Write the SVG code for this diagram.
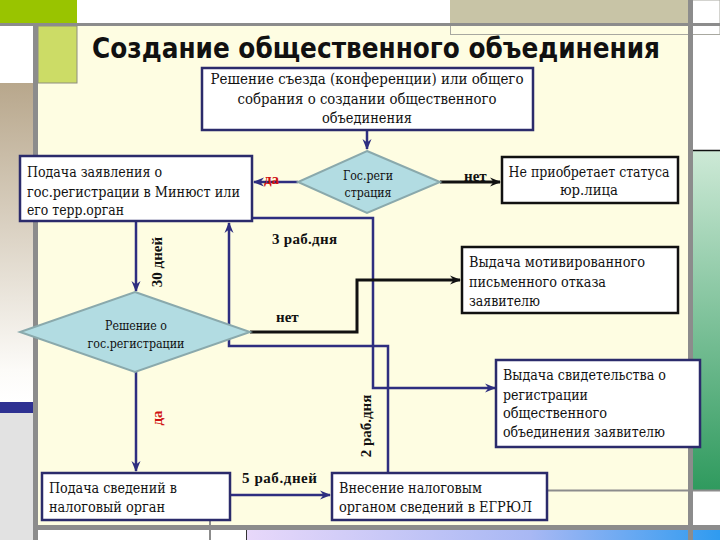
<svg xmlns="http://www.w3.org/2000/svg" width="720" height="540" viewBox="0 0 720 540">
<defs>
<linearGradient id="tan" x1="0" y1="0" x2="0" y2="1">
<stop offset="0" stop-color="#B8A78C"/><stop offset="0.9" stop-color="#FCFBF8"/><stop offset="1" stop-color="#FFFFFF"/>
</linearGradient>
<linearGradient id="grn" x1="0" y1="0" x2="0" y2="1">
<stop offset="0" stop-color="#CDE9D6"/><stop offset="1" stop-color="#2F9A5E"/>
</linearGradient>
<linearGradient id="blu" x1="0" y1="0" x2="1" y2="0">
<stop offset="0" stop-color="#E8D8FA"/><stop offset="0.6" stop-color="#A8B8F4"/><stop offset="1" stop-color="#2F9BF0"/>
</linearGradient>
<marker id="an" markerWidth="11" markerHeight="10" refX="10" refY="5" orient="auto" markerUnits="userSpaceOnUse">
<path d="M0,0.5 L11,5 L0,9.5 L3.5,5 Z" fill="#2E2E80"/>
</marker>
<marker id="ak" markerWidth="11" markerHeight="10" refX="10" refY="5" orient="auto" markerUnits="userSpaceOnUse">
<path d="M0,0.5 L11,5 L0,9.5 L3.5,5 Z" fill="#111"/>
</marker>
<style>
.box{fill:#fff;stroke:#2B2B6B;stroke-width:2.5}
.boxk{fill:#fff;stroke:#111;stroke-width:2.5}
.dia{fill:#B2DCE2;stroke:#8AA9AC;stroke-width:2}
.bt{font-family:'DejaVu Serif Condensed','DejaVu Serif',serif;font-stretch:condensed;font-size:14.5px;fill:#111}
.bts{font-family:'DejaVu Serif Condensed','DejaVu Serif',serif;font-stretch:condensed;font-size:13.5px;fill:#111;text-anchor:middle}
.mid{text-anchor:middle}
.lab{font-family:'Liberation Serif','DejaVu Serif',serif;font-size:15px;font-weight:bold;fill:#111}
.red{font-family:'Liberation Serif','DejaVu Serif',serif;font-size:15px;font-weight:bold;fill:#D01010}
.cn{fill:none;stroke:#2E2E80;stroke-width:2.5}
.ck{fill:none;stroke:#111;stroke-width:3}
.title{font-family:'DejaVu Sans','Open Sans',sans-serif;font-size:28px;font-weight:bold;fill:#111}
</style>
</defs>

<g id="background">
<rect x="0" y="0" width="720" height="540" fill="#FFFFFF"/>
<rect x="38" y="26" width="650" height="500" fill="#FEFDE2"/>
<rect x="0" y="83" width="33" height="319" fill="url(#tan)"/>
<rect x="0" y="402" width="33" height="11" fill="#2E3192"/>
<rect x="0" y="413" width="33" height="127" fill="#E2E2E2"/>
<rect x="0" y="0" width="77" height="23" fill="#99C400"/>
<rect x="38" y="26" width="39" height="57" fill="#CCDC66" stroke="#8E8E80" stroke-width="1"/>
<rect x="450.5" y="0" width="269.5" height="34.5" fill="none" stroke="#A8A8A0" stroke-width="1"/>
<rect x="450" y="0" width="238" height="23" fill="#C8C4A6"/>
<rect x="0" y="23" width="720" height="3" fill="#8C8C8C"/>
<rect x="33" y="26" width="5" height="514" fill="#8C8C8C"/>
<rect x="693" y="151" width="27" height="339" fill="url(#grn)"/>
<line x1="693" y1="150.5" x2="720" y2="150.5" stroke="#111" stroke-width="1.5"/>
<line x1="547" y1="490.5" x2="720" y2="490.5" stroke="#8C8C8C" stroke-width="2"/>
<rect x="38" y="525" width="682" height="5" fill="#8C8C8C"/>
<rect x="246" y="530" width="474" height="10" fill="url(#blu)"/>
<line x1="246.5" y1="530" x2="246.5" y2="540" stroke="#333" stroke-width="1"/>
<line x1="210" y1="520" x2="210" y2="540" stroke="#8C8C8C" stroke-width="2"/>
<rect x="688" y="0" width="5" height="540" fill="#8C8C8C"/>
</g>

<text class="title" x="92" y="58" textLength="568" lengthAdjust="spacingAndGlyphs">Создание общественного объединения</text>

<g id="connectors">
<path class="cn" d="M367,131 V149" marker-end="url(#an)"/>
<path class="cn" d="M298,182 H254" marker-end="url(#an)"/>
<path class="ck" d="M440,182 H500" marker-end="url(#ak)"/>
<path class="cn" d="M136,222 V291" marker-end="url(#an)"/>
<path class="cn" d="M252,218 H373 V388 H495" marker-end="url(#an)"/>
<path class="cn" d="M388,473 V346 H229 V223" marker-end="url(#an)"/>
<path class="ck" d="M250,332 H357 V280 H460" marker-end="url(#ak)"/>
<path class="cn" d="M136,372 V471" marker-end="url(#an)"/>
<path class="cn" d="M231,495 H330" marker-end="url(#an)"/>
<text class="red" x="264" y="184">да</text>
<text class="lab" x="464" y="181">нет</text>
<text class="lab" x="276" y="322">нет</text>
<text class="lab" x="272" y="244" textLength="65">3 раб.дня</text>
<text class="lab" x="242" y="483" textLength="75">5 раб.дней</text>
<text class="lab mid" transform="translate(162,262) rotate(-90)">30 дней</text>
<text class="lab mid" transform="translate(371,426) rotate(-90)">2 раб.дня</text>
<text class="red mid" transform="translate(162,418) rotate(-90)">да</text>
</g>

<g id="n-decision">
<rect class="box" x="202" y="68" width="331" height="62"/>
<text class="bt mid" x="367" y="84" textLength="313" lengthAdjust="spacingAndGlyphs">Решение съезда (конференции) или общего</text>
<text class="bt mid" x="367" y="104" textLength="259" lengthAdjust="spacingAndGlyphs">собрания о создании общественного</text>
<text class="bt mid" x="367" y="123" textLength="90" lengthAdjust="spacingAndGlyphs">объединения</text>
</g>

<g id="n-gosreg">
<polygon class="dia" points="367,151 440,182 367,213 298,182"/>
<text class="bts" x="368" y="180" textLength="50" lengthAdjust="spacingAndGlyphs">Гос.реги</text>
<text class="bts" x="368" y="197" textLength="47" lengthAdjust="spacingAndGlyphs">страция</text>
</g>

<g id="n-zayavl">
<rect class="box" x="20" y="156" width="232" height="65"/>
<text class="bt" x="27" y="177" textLength="135" lengthAdjust="spacingAndGlyphs">Подача заявления о</text>
<text class="bt" x="27" y="197" textLength="213" lengthAdjust="spacingAndGlyphs">гос.регистрации в Минюст или</text>
<text class="bt" x="27" y="215" textLength="97" lengthAdjust="spacingAndGlyphs">его терр.орган</text>
</g>

<g id="n-nestatus">
<rect class="boxk" x="502" y="157" width="176" height="46"/>
<text class="bt mid" x="589" y="177" textLength="161" lengthAdjust="spacingAndGlyphs">Не приобретает статуса</text>
<text class="bt mid" x="589" y="195" textLength="58" lengthAdjust="spacingAndGlyphs">юр.лица</text>
</g>

<g id="n-otkaz">
<rect class="boxk" x="462" y="247" width="216" height="66"/>
<text class="bt" x="469" y="267" textLength="176" lengthAdjust="spacingAndGlyphs">Выдача мотивированного</text>
<text class="bt" x="469" y="287" textLength="137" lengthAdjust="spacingAndGlyphs">письменного отказа</text>
<text class="bt" x="469" y="306" textLength="71" lengthAdjust="spacingAndGlyphs">заявителю</text>
</g>

<g id="n-reshenie">
<polygon class="dia" points="135,292 250,332 135,372 20,332"/>
<text class="bts" x="136" y="330" textLength="62" lengthAdjust="spacingAndGlyphs">Решение о</text>
<text class="bts" x="136" y="348" textLength="97" lengthAdjust="spacingAndGlyphs">гос.регистрации</text>
</g>

<g id="n-svidet">
<rect class="box" x="496" y="360" width="204" height="87"/>
<text class="bt" x="503" y="380" textLength="163" lengthAdjust="spacingAndGlyphs">Выдача свидетельства о</text>
<text class="bt" x="503" y="400" textLength="85" lengthAdjust="spacingAndGlyphs">регистрации</text>
<text class="bt" x="503" y="418" textLength="104" lengthAdjust="spacingAndGlyphs">общественного</text>
<text class="bt" x="503" y="437" textLength="162" lengthAdjust="spacingAndGlyphs">объединения заявителю</text>
</g>

<g id="n-nalog">
<rect class="box" x="42" y="473" width="188" height="47"/>
<text class="bt" x="49" y="493" textLength="128" lengthAdjust="spacingAndGlyphs">Подача сведений в</text>
<text class="bt" x="49" y="512" textLength="116" lengthAdjust="spacingAndGlyphs">налоговый орган</text>
</g>

<g id="n-egrul">
<rect class="box" x="332" y="473" width="215" height="47"/>
<text class="bt" x="339" y="493" textLength="143" lengthAdjust="spacingAndGlyphs">Внесение налоговым</text>
<text class="bt" x="339" y="512" textLength="193" lengthAdjust="spacingAndGlyphs">органом сведений в ЕГРЮЛ</text>
</g>
</svg>
